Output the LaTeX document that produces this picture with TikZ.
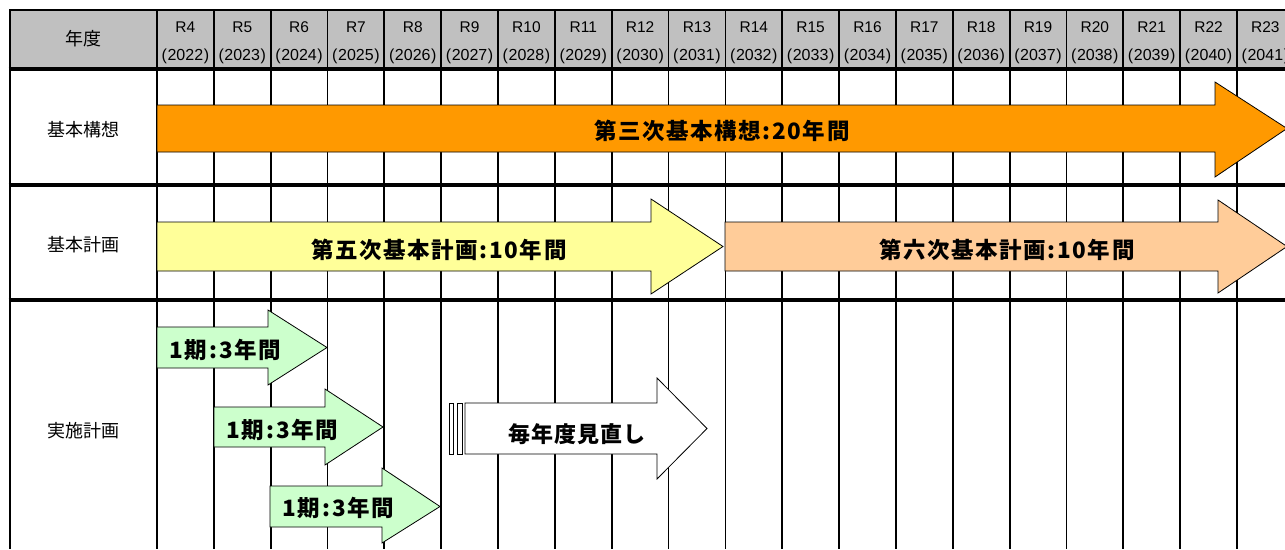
\documentclass[tikz,border=0pt]{standalone}
\usepackage{fontspec}
\setmainfont{Liberation Sans}
\newfontfamily\jp{Noto Sans CJK JP}
\newfontfamily\jpsp{Noto Sans CJK JP}[LetterSpace=7]
\newfontfamily\jpsq{Noto Sans CJK JP}[LetterSpace=4]
\definecolor{hdrgray}{HTML}{C0C0C0}
\definecolor{orangeA}{HTML}{FF9900}
\definecolor{yellowA}{HTML}{FFFF99}
\definecolor{peachA}{HTML}{FFCC99}
\definecolor{greenA}{HTML}{CCFFCC}
\tikzset{
  gridline/.style={line width=1.8pt, black},
  sepline/.style={line width=3.6pt, black},
  arrowshape/.style={draw=black, line width=0.8pt, line join=miter},
  hdrtxt/.style={font=\fontsize{15.5}{17}\selectfont, inner sep=0pt},
  yrtxt/.style={font=\fontsize{16}{18}\selectfont, inner sep=0pt},
  rowlabel/.style={font=\jp\fontsize{18}{20}\selectfont, inner sep=0pt},
  bigtxt/.style={font=\jpsp\bfseries\fontsize{22.5}{24}\selectfont, inner sep=0pt},
  revtxt/.style={font=\jpsq\bfseries\fontsize{22}{24}\selectfont, inner sep=0pt},
}
% fill, x0, xhead, xtip, body top, body bottom, head top, head bottom
\newcommand{\barrow}[8]{%
  \filldraw[arrowshape, fill=#1] (#2,#5) -- (#3,#5) -- (#3,#7) -- (#4,{(#5+#6)/2}) -- (#3,#8) -- (#3,#6) -- (#2,#6) -- cycle;}
\begin{document}
\begin{tikzpicture}[x=1pt,y=-1pt]
\useasboundingbox (0,0) rectangle (1285,549);
\begin{scope}
\clip (0,0) rectangle (1285,549);
% header background
\fill[hdrgray] (10,10) rectangle (1300,68);
% vertical column lines
\foreach \i in {0,...,19} {
  \draw[gridline] ({157+\i*56.84},10) -- ({157+\i*56.84},549);
}
% outer/row lines
\draw[line width=2.6pt] (10,9) -- (10,549);
\draw[line width=1.6pt] (9,10) -- (1300,10);
\draw[sepline] (8.7,69) -- (1300,69);
\draw[sepline] (8.7,185) -- (1300,185);
\draw[sepline] (8.7,300) -- (1300,300);
% header texts
\node[rowlabel] (hdr) at (83,39) {\jp 年度};
\foreach \i in {0,...,19} {
  \pgfmathtruncatemacro\rn{4+\i}
  \pgfmathtruncatemacro\yr{2022+\i}
  \node[hdrtxt] (r\rn) at ({185.4+\i*56.84},27) {R\rn};
  \node[yrtxt] (y\rn) at ({185.4+\i*56.84},56) {(\kern0.6pt\yr\kern0.6pt)};
}
% row labels
\node[rowlabel] (lab1) at (83,130) {基本構想};
\node[rowlabel] (lab2) at (83,245) {基本計画};
\node[rowlabel] (lab3) at (83,431) {実施計画};
% arrows
\barrow{orangeA}{157}{1215}{1287}{105}{152}{82}{177}
\barrow{yellowA}{157}{651}{723}{222}{271}{199}{294}
\barrow{peachA}{725}{1218}{1287}{222}{271}{200}{293}
\barrow{greenA}{157}{268}{327}{327}{368}{310}{385}
\barrow{greenA}{214}{325}{383}{407}{447}{389}{465}
\barrow{greenA}{270}{382}{440}{486}{527}{468}{543}
% review arrow with stripes
\filldraw[arrowshape, fill=white] (449,403) rectangle (453,454);
\filldraw[arrowshape, fill=white] (457,403) rectangle (462,454);
\barrow{white}{465}{657}{707}{403}{454}{378}{479}
% arrow texts
\node[bigtxt] (t1) at (722,131) {第三次基本構想:20年間};
\node[bigtxt] (t2) at (439,250) {第五次基本計画:10年間};
\node[bigtxt] (t3) at (1007,250) {第六次基本計画:10年間};
\node[bigtxt] (g1) at (225,350) {1\kern2pt 期\kern2pt:\kern2pt 3年間};
\node[bigtxt] (g2) at (282,430) {1\kern2pt 期\kern2pt:\kern2pt 3年間};
\node[bigtxt] (g3) at (338,508) {1\kern2pt 期\kern2pt:\kern2pt 3年間};
\node[revtxt] (rv) at (577,434) {毎年度見直し};
\end{scope}
\end{tikzpicture}
\end{document}
